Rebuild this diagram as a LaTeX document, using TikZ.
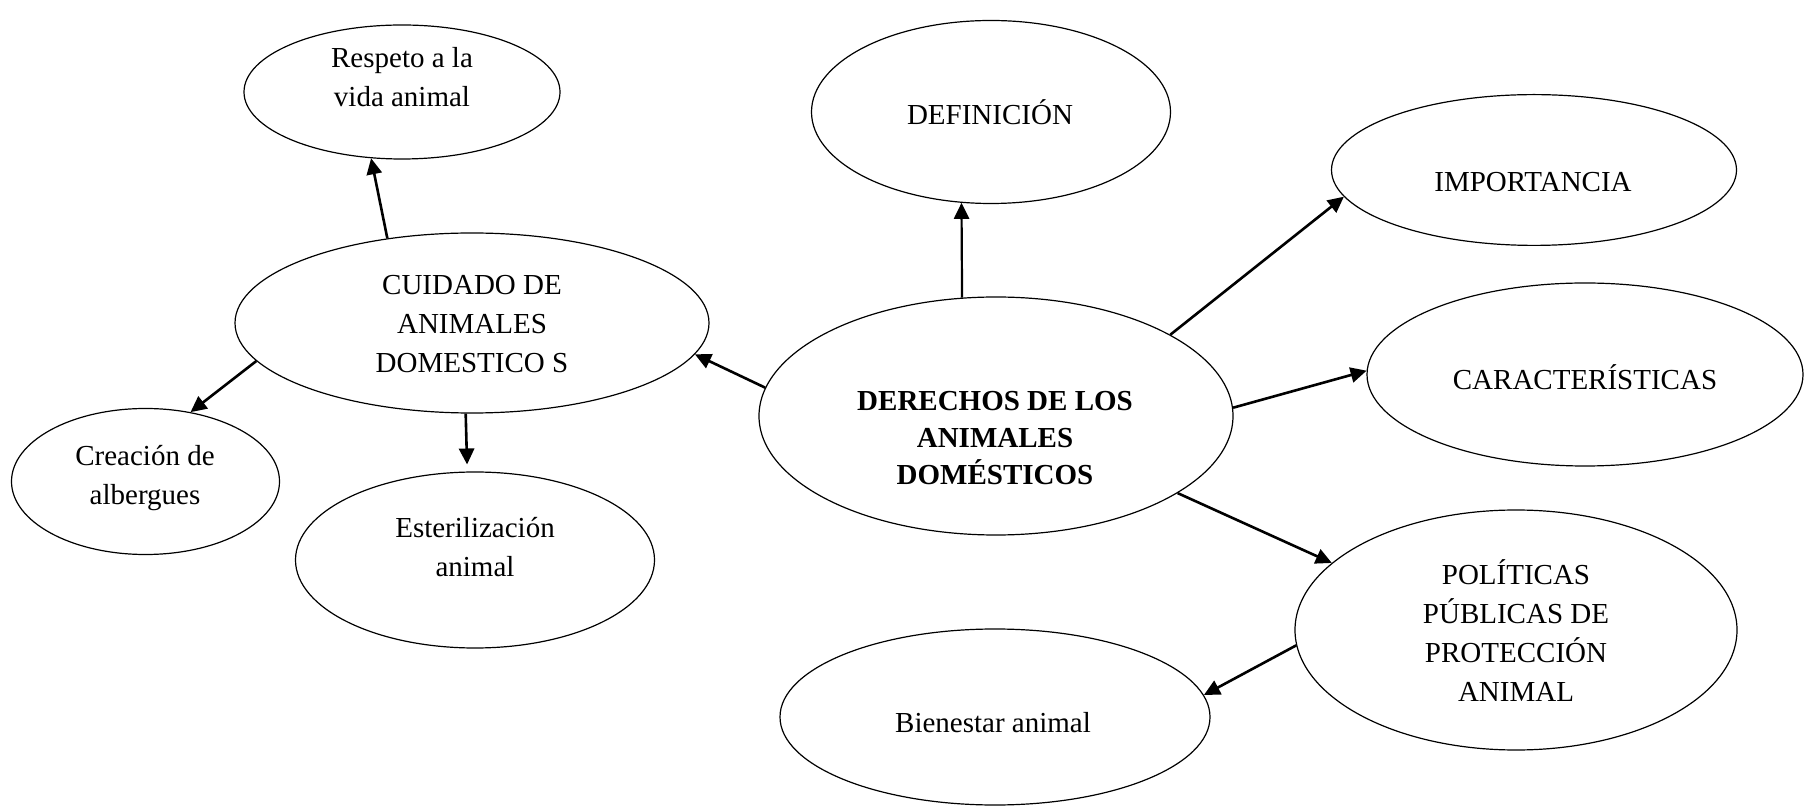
\documentclass[tikz,border=0pt]{standalone}
\usepackage{fontspec}
\setmainfont{Liberation Serif}
\usetikzlibrary{arrows.meta,shapes.geometric}
\begin{document}
\begin{tikzpicture}[x=0.5pt,y=-0.5pt,
  bub/.style={ellipse,draw,line width=0.6pt,inner sep=0pt},
  txt/.style={align=center,inner sep=0pt,font=\fontsize{14.5pt}{19.5pt}\selectfont},
  arr/.style={line width=1.3pt,-{Triangle[length=8pt,width=7.6pt]}}]
\useasboundingbox (0,0) rectangle (1804,806);
% ellipses
\node[bub,minimum width=158pt,minimum height=67pt] (resp) at (402,92) {};
\node[bub,minimum width=179.5pt,minimum height=91.5pt] (defi) at (991,112) {};
\node[bub,minimum width=202.5pt,minimum height=75.4pt] (impo) at (1534,170) {};
\node[bub,minimum width=237pt,minimum height=90pt] (cuid) at (472,323) {};
\node[bub,minimum width=237pt,minimum height=119pt] (der) at (996,416) {};
\node[bub,minimum width=218pt,minimum height=91.5pt] (car) at (1585,374.5) {};
\node[bub,minimum width=134pt,minimum height=73pt] (crea) at (145.5,481.5) {};
\node[bub,minimum width=179.5pt,minimum height=88pt] (est) at (475,560) {};
\node[bub,minimum width=221pt,minimum height=120pt] (pol) at (1516,630) {};
\node[bub,minimum width=215pt,minimum height=88pt] (bien) at (995,717) {};
% texts
\node[txt] (respT) at (402,77) {Respeto a la\\vida animal};
\node[txt] (defiT) at (990,112) {DEFINICIÓN};
\node[txt] (impoT) at (1533,182) {IMPORTANCIA};
\node[txt] (cuidT) at (472,324) {CUIDADO DE\\ANIMALES\\DOMESTICO S};
\node[txt,font=\fontsize{14.5pt}{18.5pt}\selectfont\bfseries] (derT) at (995,438) {DERECHOS DE LOS\\ANIMALES\\DOMÉSTICOS};
\node[txt] (carT) at (1585,377) {CARACTERÍSTICAS};
\node[txt] (creaT) at (145,478) {Creación de\\albergues};
\node[txt] (estT) at (475,547) {Esterilización\\animal};
\node[txt] (polT) at (1516,630.5) {POLÍTICAS\\PÚBLICAS DE\\PROTECCIÓN\\ANIMAL};
\node[txt] (bienT) at (993,722.5) {Bienestar animal};
% connectors
\draw[arr] (cuid.135.6) -- (resp.245.5);
\draw[arr] (cuid.190) -- (crea.57.2);
\draw[arr,shorten >=3.5pt] (cuid.266.8) -- (est.95.2);
\draw[arr] (der.173.5) -- (cuid.352.7);
\draw[arr,line width=1.1pt] (der.106) -- (defi.252.8);
\draw[arr] (der.25) -- (impo.188);
\draw[arr] (der.2.1) -- (car.179);
\draw[arr] (der.337.9) -- (pol.160.1);
\draw[arr] (pol.184.6) -- (bien.6.8);
\end{tikzpicture}
\end{document}
